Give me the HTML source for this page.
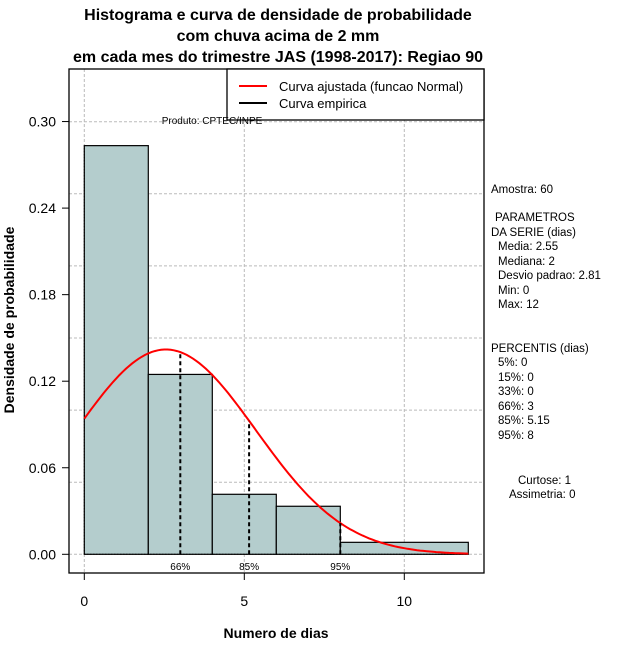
<!DOCTYPE html>
<html><head><meta charset="utf-8"><style>
body{margin:0;background:#fff}
svg{display:block;font-family:"Liberation Sans",sans-serif}
</style></head><body>
<svg id="chart" width="640" height="660" viewBox="0 0 640 660">
<g font-weight="bold" font-size="16" text-anchor="middle" fill="#000">
<text x="278" y="20">Histograma e curva de densidade de probabilidade</text>
<text x="278" y="41">com chuva acima de 2 mm</text>
<text x="278" y="62">em cada mes do trimestre JAS (1998-2017): Regiao 90</text>
</g>
<g id="grid"></g>
<g id="bars"></g>
<g id="curve"></g>
<g id="pct"></g>
<g id="axes"></g>
<rect x="69" y="69" width="415" height="504" fill="none" stroke="#000" stroke-width="1.3"/>
<g>
<rect x="227" y="69" width="257" height="51" fill="#fff" stroke="#000" stroke-width="1.3"/>
<line x1="239" y1="86" x2="267" y2="86" stroke="red" stroke-width="2"/>
<line x1="239" y1="103" x2="267" y2="103" stroke="#000" stroke-width="2"/>
<text x="279" y="91" font-size="13">Curva ajustada (funcao Normal)</text>
<text x="279" y="108" font-size="13">Curva empirica</text>
</g>
<text x="212" y="124" font-size="10" text-anchor="middle">Produto: CPTEC/INPE</text>
<g font-size="11.5">
<text x="491" y="193">Amostra: 60</text>
<text x="495" y="221">PARAMETROS</text>
<text x="491" y="236">DA SERIE (dias)</text>
<text x="498" y="250">Media: 2.55</text>
<text x="498" y="265">Mediana: 2</text>
<text x="498" y="279">Desvio padrao: 2.81</text>
<text x="498" y="294">Min: 0</text>
<text x="498" y="308">Max: 12</text>
<text x="491" y="352">PERCENTIS (dias)</text>
<text x="498" y="366">5%: 0</text>
<text x="498" y="381">15%: 0</text>
<text x="498" y="395">33%: 0</text>
<text x="498" y="410">66%: 3</text>
<text x="498" y="424">85%: 5.15</text>
<text x="498" y="439">95%: 8</text>
<text x="518" y="484">Curtose: 1</text>
<text x="509" y="498">Assimetria: 0</text>
</g>
<text x="276" y="638" font-size="14" font-weight="bold" text-anchor="middle">Numero de dias</text>
<text transform="translate(14,320) rotate(-90)" font-size="14" font-weight="bold" text-anchor="middle">Densidade de probabilidade</text>
</svg>
<script>
const binStarts=[0,2,4,6,8];
const binEnds=[2,4,6,8,12];
const densities=[0.2833,0.1247,0.0416,0.0333,0.0083];
const xTicks=[0,5,10];
const yTicks=[0,0.06,0.12,0.18,0.24,0.30];
const yTickLabels=["0.00","0.06","0.12","0.18","0.24","0.30"];
const fitMean=[2.55];
const fitSd=[2.81];
const pctValues=[3,5.15,8];
const pctLabels=["66%","85%","95%"];
const NS="http://www.w3.org/2000/svg";
const X=v=>84.3+v*32;
const Y=v=>554.3-v*1442.5;
function mk(tag,attrs,parent,txt){const e=document.createElementNS(NS,tag);for(const k in attrs)e.setAttribute(k,attrs[k]);if(txt!==undefined)e.textContent=txt;document.getElementById(parent).appendChild(e);return e;}
function pdf(x){const m=fitMean[0],s=fitSd[0];return Math.exp(-0.5*((x-m)/s)**2)/(s*Math.sqrt(2*Math.PI));}
for(let i=0;i<=6;i++){const y=554.3-i*72.1;const l=mk('line',{x1:69,x2:484,y1:y,y2:y,stroke:'#bbb','stroke-dasharray':'3,2'},'grid');

}
xTicks.forEach(t=>{const l=mk('line',{x1:X(t),x2:X(t),y1:69,y2:573,stroke:'#bbb','stroke-dasharray':'3,2'},'grid');

});
densities.forEach((d,i)=>{const r=mk('rect',{x:X(binStarts[i]),y:Y(d),width:X(binEnds[i])-X(binStarts[i]),height:Y(0)-Y(d),fill:'#b4cdcd',stroke:'#000','stroke-width':1.2},'bars');

});
mk('line',{x1:X(0),x2:X(12),y1:Y(0),y2:Y(0),stroke:'#000','stroke-dasharray':'1,2'},'bars');
mk('line',{x1:X(0),x2:X(0),y1:Y(0),y2:Y(densities[0]),stroke:'#000','stroke-dasharray':'1,2'},'bars');
let pts=[];for(let x=0;x<=12.001;x+=0.1)pts.push(X(x).toFixed(1)+','+Y(pdf(x)).toFixed(1));
const pl=mk('polyline',{points:pts.join(' '),fill:'none',stroke:'red','stroke-width':2},'curve');


pctValues.forEach((v,i)=>{const l=mk('line',{x1:X(v),x2:X(v),y1:Y(0),y2:Y(pdf(v)),stroke:'#000','stroke-width':2,'stroke-dasharray':'4,3'},'pct');


const t=mk('text',{x:X(v),y:570,'font-size':10,'text-anchor':'middle'},'pct',pctLabels[i]);

});
mk('line',{x1:X(0),x2:X(10),y1:573,y2:573,stroke:'#000'},'axes');
xTicks.forEach(t=>{mk('line',{x1:X(t),x2:X(t),y1:573,y2:580,stroke:'#000'},'axes');
const tx=mk('text',{x:X(t),y:606,'font-size':14,'text-anchor':'middle'},'axes',String(t));

});
yTicks.forEach((t,i)=>{mk('line',{x1:62,x2:69,y1:Y(t),y2:Y(t),stroke:'#000'},'axes');
const tx=mk('text',{x:56,y:Y(t)+5,'font-size':14,'text-anchor':'end'},'axes',yTickLabels[i]);

});
</script>
</body></html>
